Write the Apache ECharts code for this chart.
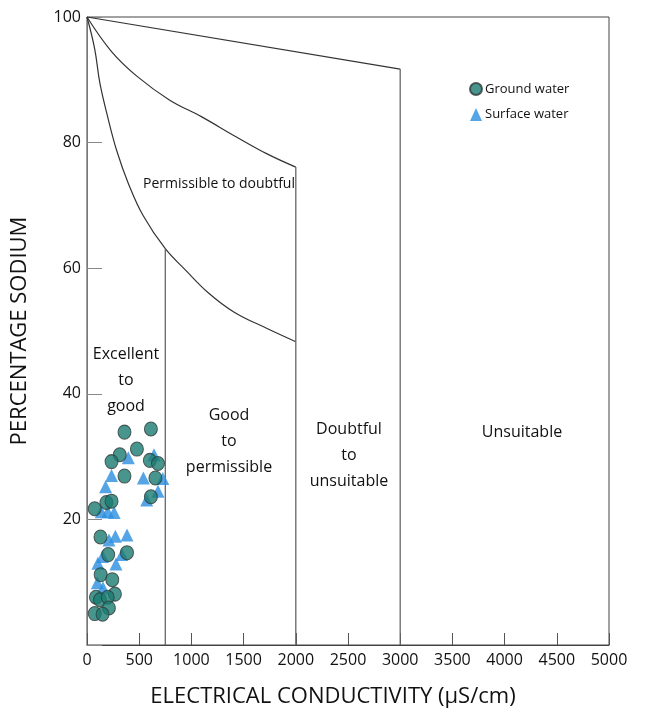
<!DOCTYPE html>
<html>
<head>
<meta charset="utf-8">
<script src="https://cdn.jsdelivr.net/npm/echarts@6/dist/echarts.min.js"></script>
<style>
  html, body { margin: 0; padding: 0; background: #fff; }
  #chart { width: 646px; height: 713px; }
</style>
</head>
<body>
<div id="chart"></div>
<script>
// ---- Data ----
const xTicks = [0, 500, 1000, 1500, 2000, 2500, 3000, 3500, 4000, 4500, 5000];
const yTicks = [20, 40, 60, 80, 100];

// Ground water: EC (µS/cm) and % Na
const groundEC = [359, 612, 478, 314, 235, 602, 680, 359, 655, 612, 74, 186, 235, 129, 383, 203, 131, 242, 267, 86, 124, 198, 210, 74, 149];
const groundNa = [33.9, 34.4, 31.2, 30.3, 29.2, 29.4, 28.9, 26.9, 26.6, 23.6, 21.7, 22.7, 22.9, 17.2, 14.7, 14.4, 11.2, 10.4, 8.1, 7.6, 7.2, 7.6, 5.9, 5.0, 4.9];

// Surface water: EC (µS/cm) and % Na
const surfaceEC = [396, 642, 235, 540, 726, 178, 680, 572, 136, 198, 260, 210, 272, 383, 149, 104, 277, 334, 99, 153];
const surfaceNa = [29.8, 30.3, 27.0, 26.6, 26.5, 25.2, 24.5, 23.1, 21.2, 21.2, 21.1, 16.7, 17.3, 17.5, 14.1, 13.0, 12.9, 14.4, 9.9, 9.1];

// Wilcox classification boundaries
const topLineEC = [0, 3000];
const topLineNa = [100, 91.7];
const curveMidEC = [0, 235, 483, 789, 1099, 1410, 1725, 2000];
const curveMidNa = [100, 94.5, 90.5, 86.8, 84.1, 81.1, 78.2, 76.1];
const curveLowEC = [0, 74, 123, 198, 285, 396, 540, 750, 944, 1161, 1410, 1725, 2000];
const curveLowNa = [100, 94.9, 89.5, 84.1, 78.7, 73.5, 68.3, 63.1, 59.7, 56.1, 53.0, 50.4, 48.3];
const vLinesEC = [750, 2000, 3000];
const vLinesTopNa = [63.1, 76.1, 91.7];

const zip = (a, b) => a.map((v, i) => [v, b[i]]);

const lineStyle = { color: '#333', width: 1.2 };
const vStyle = { color: '#666', width: 1.3 };

const series = [
  { type: 'line', data: zip(topLineEC, topLineNa), symbol: 'none', lineStyle: lineStyle, silent: true, z: 1 },
  { type: 'line', data: zip(curveMidEC, curveMidNa), symbol: 'none', smooth: 0.4, lineStyle: lineStyle, silent: true, z: 1 },
  { type: 'line', data: zip(curveLowEC, curveLowNa), symbol: 'none', smooth: 0.4, lineStyle: lineStyle, silent: true, z: 1 }
];
vLinesEC.forEach((x, i) => {
  series.push({ type: 'line', data: [[x, 0], [x, vLinesTopNa[i]]], symbol: 'none', lineStyle: vStyle, silent: true, z: 1 });
});
series.push({
  name: 'Surface water', type: 'scatter', symbol: 'triangle', symbolSize: [13, 13],
  itemStyle: { color: '#2a8ee0' }, data: zip(surfaceEC, surfaceNa), z: 3
});
series.push({
  name: 'Ground water', type: 'scatter', symbol: 'circle', symbolSize: [13, 14],
  itemStyle: { color: '#1a7a70', borderColor: '#2f3a3a', borderWidth: 1 }, data: zip(groundEC, groundNa), z: 4
});

const FONT = '"Open Sans", "Noto Sans", sans-serif';
const txt = (x, y, t, size) => ({
  type: 'text', x: x, y: y, silent: true,
  style: { text: t, x: 0, y: 0, textAlign: 'center', textVerticalAlign: 'middle', fontSize: size || 16, fontFamily: FONT, fill: '#111', lineHeight: 26 }
});

const chart = echarts.init(document.getElementById('chart'), null, { renderer: 'canvas' });
chart.setOption({
  animation: false,
  backgroundColor: '#fff',
  grid: { left: 87, right: 37, top: 17, bottom: 64, show: true, borderColor: '#444', borderWidth: 1 },
  legend: {
    orient: 'vertical', left: 464, top: 77, itemWidth: 12, itemHeight: 13, itemGap: 12,
    data: [{ name: 'Ground water', icon: 'circle' }, { name: 'Surface water', icon: 'triangle' }],
    textStyle: { fontSize: 13, fontFamily: FONT, color: '#111', padding: [0, 0, 0, -2] }
  },
  xAxis: {
    type: 'value', min: 0, max: 5000, interval: 500,
    name: 'ELECTRICAL CONDUCTIVITY (µS/cm)', nameLocation: 'middle', nameGap: 41,
    nameTextStyle: { fontSize: 22, fontFamily: FONT, color: '#111', padding: [0, 30, 0, 0] },
    axisLine: { lineStyle: { color: '#444' } },
    axisTick: { inside: true, length: 12, lineStyle: { color: '#555' } },
    axisLabel: { fontSize: 16, fontFamily: FONT, color: '#111', margin: 7, formatter: v => (xTicks.indexOf(v) >= 0 ? String(v) : '') },
    splitLine: { show: false }
  },
  yAxis: {
    type: 'value', min: 0, max: 100, interval: 20,
    name: 'PERCENTAGE SODIUM', nameLocation: 'middle', nameGap: 56, nameRotate: 90,
    nameTextStyle: { fontSize: 22, fontFamily: FONT, color: '#111' },
    axisLine: { lineStyle: { color: '#777' } },
    axisTick: { inside: true, length: 15, lineStyle: { color: '#888' } },
    axisLabel: { fontSize: 16, fontFamily: FONT, color: '#111', margin: 6, formatter: v => (yTicks.indexOf(v) >= 0 ? String(v) : '') },
    splitLine: { show: false }
  },
  series: series,
  graphic: [
    txt(126, 380, 'Excellent\nto\ngood'),
    txt(229, 441, 'Good\nto\npermissible'),
    txt(349, 455, 'Doubtful\nto\nunsuitable'),
    txt(522, 432, 'Unsuitable'),
    txt(219, 184, 'Permissible to doubtful', 14)
  ]
});
</script>
</body>
</html>
